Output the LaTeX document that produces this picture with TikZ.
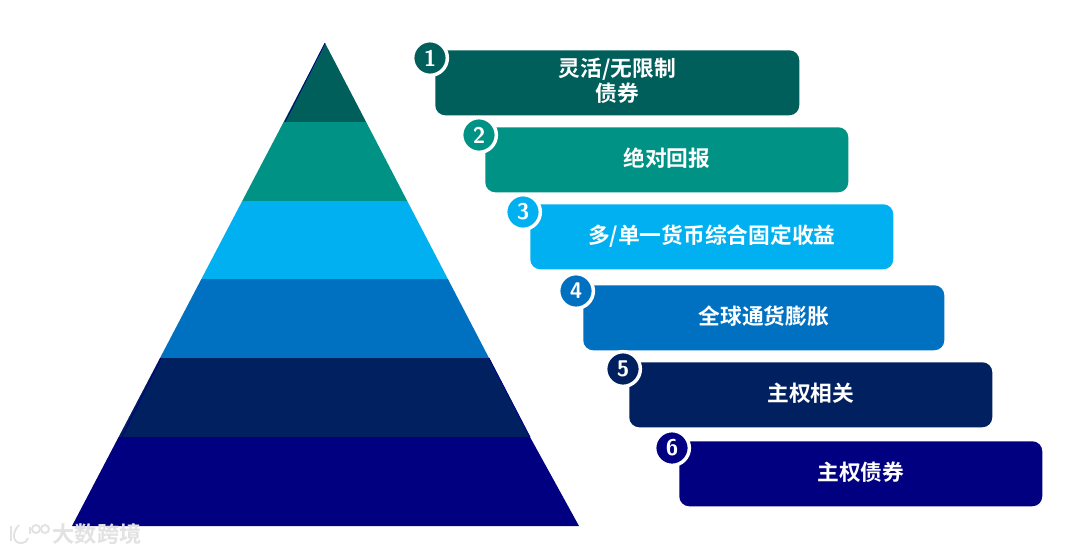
\documentclass[tikz,border=0pt]{standalone}
\usepackage{fontspec}
\newfontfamily\cjkb{Noto Sans CJK SC Bold}
\definecolor{cA}{HTML}{005F5B}
\definecolor{cB}{HTML}{009385}
\definecolor{cC}{HTML}{00B0F0}
\definecolor{cD}{HTML}{0070C0}
\definecolor{cE}{HTML}{002060}
\definecolor{cF}{HTML}{000080}
\definecolor{wm}{HTML}{E2E2E2}
\tikzset{
  x=0.75pt,y=-0.75pt,
  pill/.style={rounded corners=7.5pt,minimum height=48.75pt,inner sep=0pt,anchor=north west,text=white,font=\cjkb\fontsize{16.3}{18.6}\selectfont,align=center,text height=13pt,text depth=3pt},
  badge/.style={circle,draw=white,line width=2.6pt,minimum size=26pt,inner sep=0pt,text=white,font=\sffamily\bfseries\fontsize{17}{17}\selectfont},
  wmark/.style={text=wm,inner sep=0pt,font=\cjkb\fontsize{16.6}{17}\selectfont},
  wline/.style={draw=wm,line width=1.4pt},
}
\begin{document}
\begin{tikzpicture}
\useasboundingbox (0,0) rectangle (1080,554);
\fill[white] (0,0) rectangle (1080,554);
\begin{scope}
\clip (325,43) -- (489,358) -- (530,437) -- (579,526) -- (72,526) -- cycle;
\fill[cA] (60,40) rectangle (590,122);
\fill[cB] (60,122) rectangle (590,201);
\fill[cC] (60,201) rectangle (590,279);
\fill[cD] (60,279) rectangle (590,358);
\fill[cE] (60,358) rectangle (590,437);
\fill[cF] (60,437) rectangle (590,527);
\end{scope}
\draw[cF,line width=0.6pt] (325,43) -- (285,122);
\draw[cF,line width=0.6pt] (161,358) -- (122,437);
\draw[cF,line width=0.6pt] (489,358) -- (530,437);
\node[pill,fill=cA,minimum width=273pt,text height=31pt] (p1) at (435,50) {灵活/无限制\\债券};
\node[pill,fill=cB,minimum width=272.25pt] (p2) at (485,127) {绝对回报};
\node[pill,fill=cC,minimum width=272.25pt] (p3) at (530,204) {多/单一货币综合固定收益};
\node[pill,fill=cD,minimum width=270.75pt] (p4) at (583,285) {全球通货膨胀};
\node[pill,fill=cE,minimum width=272.25pt] (p5) at (629,362) {主权相关};
\node[pill,fill=cF,minimum width=272.25pt] (p6) at (679,441) {主权债券};
\node[badge,fill=cA] (b1) at (430,58) {1};
\node[badge,fill=cB] (b2) at (479,135) {2};
\node[badge,fill=cC] (b3) at (523,212) {3};
\node[badge,fill=cD] (b4) at (576,291) {4};
\node[badge,fill=cE] (b5) at (623,369) {5};
\node[badge,fill=cF] (b6) at (672,448) {6};
\node[wmark] (w1) at (97,534) {大数跨境};
\draw[wline] (11,526) -- (11,541);
\draw[wline] (19,525) .. controls (11,533) and (13,544) .. (22,543) .. controls (25,543) and (27,541) .. (28,538);
\draw[wline] (30,527) -- (30,534);
\draw[wline] (36,529) circle[radius=4];
\draw[wline] (45,529) circle[radius=4];
\end{tikzpicture}
\end{document}
